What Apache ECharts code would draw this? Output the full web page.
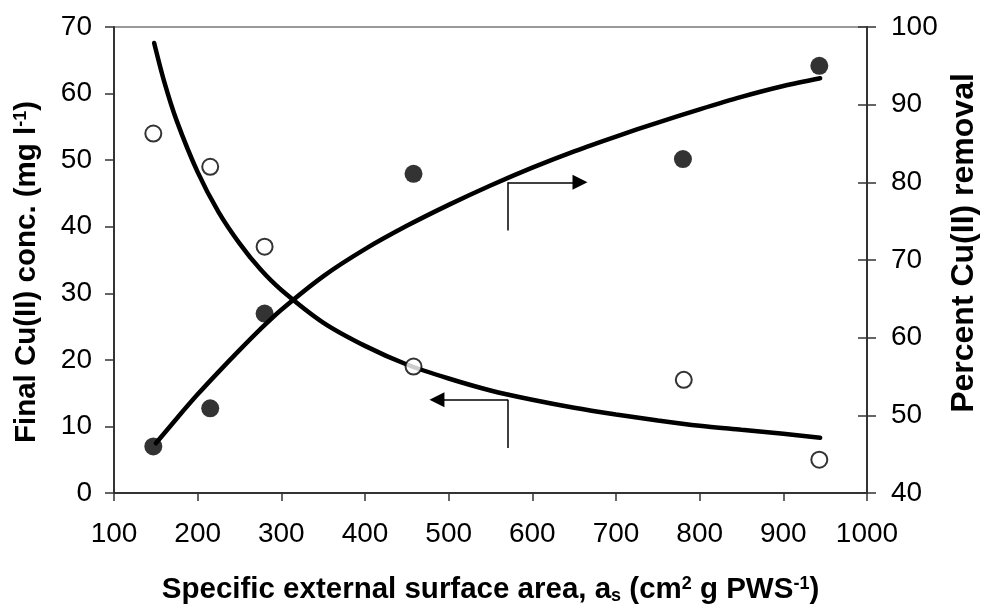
<!DOCTYPE html>
<html>
<head>
<meta charset="utf-8">
<script src="https://cdn.jsdelivr.net/npm/echarts@6/dist/echarts.min.js"></script>
<style>
  html, body { margin: 0; padding: 0; background: #fff; }
  #chart { width: 981px; height: 605px; }
</style>
</head>
<body>
<div id="chart"></div>
<script>
// measured points: [surface area, value]
const finalConc = [[147, 54], [215, 49], [280, 37], [458, 19], [781, 17], [943, 5]]
const removal = [[147, 46], [215, 50.9], [280, 63.1], [458, 81.1], [780, 83], [943, 95]]

// fitted curves
const concFit = [
  [148, 67.6], [160, 61.8], [175, 55.9], [200, 48.2], [225, 42.2], [250, 37.5],
  [275, 33.6], [300, 30.5], [350, 25.6], [400, 22.1], [450, 19.3], [500, 17.2],
  [550, 15.4], [600, 14.0], [650, 12.8], [700, 11.8], [750, 10.9], [800, 10.1],
  [850, 9.5], [900, 8.9], [944, 8.3],
]
const removalFit = [
  [150, 46.4], [175, 49.6], [200, 52.7], [225, 55.6], [250, 58.4], [275, 61.1],
  [300, 63.6], [350, 67.9], [400, 71.4], [450, 74.4], [500, 77.1], [550, 79.6],
  [600, 81.9], [650, 84.0], [700, 85.9], [750, 87.7], [800, 89.4], [850, 91.0],
  [900, 92.4], [944, 93.4],
]

// axis pointers (which curve belongs to which axis)
const arrowRightStem = [[571, 73.8], [571, 80.0]]
const arrowRightHead = [[571, 80.0], [657, 80.0]]
const arrowLeftStem = [[571, 6.75], [571, 14.0]]
const arrowLeftHead = [[571, 14.0], [486, 14.0]]

const font = 'Liberation Sans'
const ink = '#000'
const axisColor = '#333'

const rich = {
  sub: { fontSize: 18, fontWeight: 'bold', fontFamily: font, color: ink, verticalAlign: 'bottom', padding: [12, 0, 0, 0] },
  sup: { fontSize: 18, fontWeight: 'bold', fontFamily: font, color: ink, verticalAlign: 'top', padding: [0, 0, 12, 0] },
}

const titleStyle = {
  fontSize: 29.5,
  fontWeight: 'bold',
  fontFamily: font,
  color: ink,
  rich,
}

const labelStyle = { fontSize: 28, fontFamily: font, color: ink }

function arrowSeries(yAxisIndex, coords, head) {
  return {
    type: 'lines',
    coordinateSystem: 'cartesian2d',
    xAxisIndex: 0,
    yAxisIndex,
    symbol: head ? ['none', 'triangle'] : ['none', 'none'],
    symbolSize: 15,
    lineStyle: { color: ink, width: 1.5, opacity: 1 },
    data: [{ coords }],
    z: 4,
  }
}

const chart = echarts.init(document.getElementById('chart'), null, { renderer: 'canvas' })

chart.setOption({
  backgroundColor: '#fff',
  animation: false,
  grid: {
    left: 114,
    right: 114,
    top: 27,
    bottom: 112,
    outerBoundsMode: 'none',
    show: true,
    borderColor: '#999',
    borderWidth: 2,
  },
  xAxis: {
    type: 'value',
    min: 100,
    max: 1000,
    interval: 100,
    name: 'Specific external surface area, a{sub|s} (cm{sup|2} g PWS{sup|-1})',
    nameLocation: 'middle',
    nameGap: 82,
    nameTextStyle: titleStyle,
    axisLine: { lineStyle: { color: axisColor, width: 2 } },
    axisTick: { length: 8, lineStyle: { color: axisColor, width: 1.5 } },
    axisLabel: Object.assign({ margin: 27, formatter: v => String(v) }, labelStyle),
    splitLine: { show: false },
  },
  yAxis: [
    {
      type: 'value',
      position: 'left',
      min: 0,
      max: 70,
      interval: 10,
      name: 'Final Cu(II) conc. (mg l{sup|-1})',
      nameLocation: 'middle',
      nameGap: 72,
      nameTextStyle: Object.assign({}, titleStyle, { padding: [0, 24, 0, 0] }),
      axisLine: { show: true, lineStyle: { color: axisColor, width: 2 } },
      axisTick: { length: 9, lineStyle: { color: axisColor, width: 1.5 } },
      axisLabel: Object.assign({ margin: 22 }, labelStyle),
      splitLine: { show: false },
    },
    {
      type: 'value',
      position: 'right',
      min: 40,
      max: 100,
      interval: 10,
      name: 'Percent Cu(II) removal',
      nameLocation: 'middle',
      nameGap: 80,
      nameTextStyle: Object.assign({}, titleStyle, { fontSize: 32, padding: [0, 0, 0, 34] }),
      axisLine: { show: true, lineStyle: { color: axisColor, width: 2 } },
      axisTick: { length: 9, lineStyle: { color: axisColor, width: 1.5 } },
      axisLabel: Object.assign({ margin: 24 }, labelStyle),
      splitLine: { show: false },
    },
    {
      // inner half of the crossing ticks on the right axis
      type: 'value',
      position: 'right',
      min: 40,
      max: 100,
      interval: 10,
      axisLine: { show: false },
      axisTick: { inside: true, length: 9, lineStyle: { color: axisColor, width: 1.5 } },
      axisLabel: { show: false },
      splitLine: { show: false },
    },
  ],
  series: [
    {
      type: 'line',
      yAxisIndex: 0,
      data: concFit,
      smooth: 0.3,
      showSymbol: false,
      lineStyle: { color: ink, width: 4.5, cap: 'round' },
      z: 2,
    },
    {
      type: 'line',
      yAxisIndex: 1,
      data: removalFit,
      smooth: 0.3,
      showSymbol: false,
      lineStyle: { color: ink, width: 4.5, cap: 'round' },
      z: 2,
    },
    {
      type: 'scatter',
      yAxisIndex: 0,
      data: finalConc,
      symbol: 'circle',
      symbolSize: 16,
      itemStyle: { color: '#fff', borderColor: ink, borderWidth: 2 },
      z: 3,
    },
    {
      type: 'scatter',
      yAxisIndex: 1,
      data: removal,
      symbol: 'circle',
      symbolSize: 18,
      itemStyle: { color: ink },
      z: 3,
    },
    arrowSeries(1, arrowRightStem, false),
    arrowSeries(1, arrowRightHead, true),
    arrowSeries(0, arrowLeftStem, false),
    arrowSeries(0, arrowLeftHead, true),
  ],
})
</script>
</body>
</html>
